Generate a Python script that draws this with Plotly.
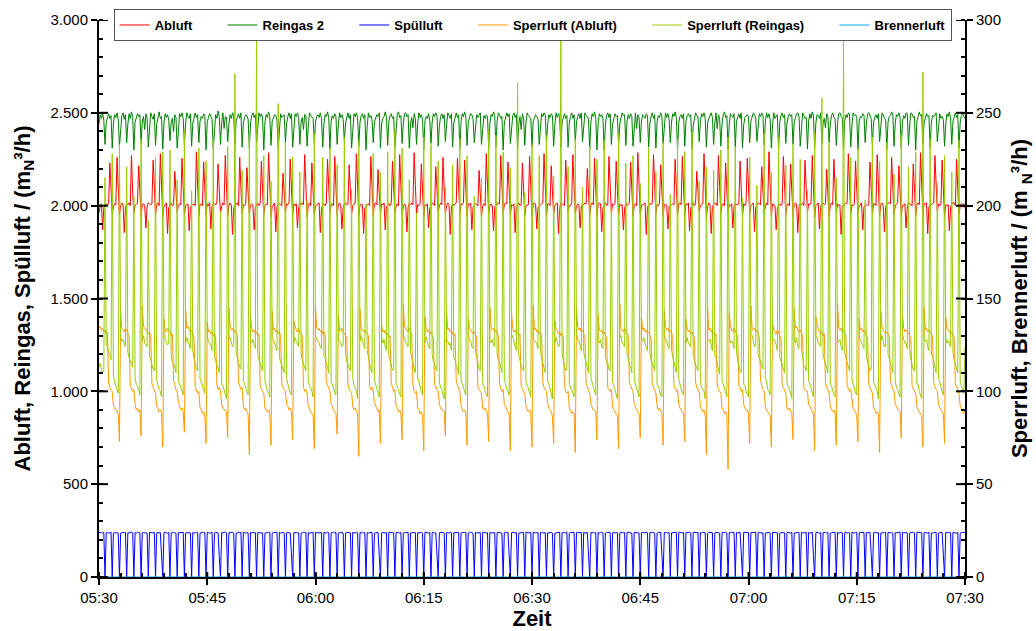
import sys
import pandas as pd
import plotly.graph_objects as go

# ---------------- data (10 s samples, 05:30 - 07:30) ----------------
ZEIT_START = "2024-01-01 05:30:00"
ZEIT_ENDE = "2024-01-01 07:30:00"
TAKT = "10s"
zeit = pd.date_range(ZEIT_START, ZEIT_ENDE, freq=TAKT)

x_ticks = ["05:30", "05:45", "06:00", "06:15", "06:30", "06:45", "07:00", "07:15", "07:30"]
y_ticks_links = [0, 500, 1000, 1500, 2000, 2500, 3000]
y_ticks_rechts = [0, 50, 100, 150, 200, 250, 300]

# Abluft (left axis, m_N^3/h)
abluft = [
    1960,2000,2010,1870,1990,2005, 2010,2000,2015,2230,2090,1955, 1995,2010,2005,2260,2100,1950,
    2000,2015,2005,1855,1985,2010, 2005,2015,2000,2270,2070,1960, 2000,2005,2015,2215,2080,1945,
    2005,2010,2000,1880,1995,2015, 2010,2005,2010,2245,2100,1950, 2005,2015,2000,2280,2110,1940,
    1995,2010,2015,1850,1990,2000, 2015,2000,2005,2185,2060,1965, 2000,2010,2005,2255,2095,1955,
    2000,2005,2010,1865,1985,2005, 2005,2010,2000,2290,2120,1945, 2010,2005,2000,2235,2085,1950,
    2010,2000,2015,1875,1995,2010, 2010,2005,2015,2225,2080,1960, 1995,2015,2005,2270,2105,1945,
    2000,2015,2005,1845,1990,2000, 2005,2015,2000,2260,2095,1955, 2005,2000,2010,2205,2070,1960,
    2005,2010,2000,1870,1985,2010, 2015,2000,2010,2240,2085,1950, 2000,2010,2005,2285,2115,1940,
    1995,2005,2015,1860,1995,2005, 2010,2005,2000,2175,2055,1965, 2010,2005,2015,2250,2090,1950,
    2010,2000,2010,1880,1990,2015, 2005,2015,2005,2275,2110,1940, 2000,2015,2000,2230,2075,1955,
    2000,2005,2010,2015,1855,1985,2005, 2010,2000,2015,2250,2095,1960, 2005,2010,2000,2265,2100,1950,
    2005,2015,2000,1875,1990,2010, 2015,2005,2010,2220,2075,1955, 2000,2005,2015,2280,2110,1945,
    2000,2010,2005,1850,1985,2000, 2005,2010,2000,2265,2100,1945, 2010,2015,2005,2195,2065,1960,
    2010,2005,2015,1870,1995,2005, 2010,2000,2015,2240,2085,1960, 1995,2010,2000,2275,2105,1950,
    1995,2010,2000,1860,1990,2015, 2005,2015,2005,2285,2115,1950, 2005,2000,2010,2225,2080,1940,
    2005,2000,2010,1880,1985,2005, 2015,2005,2000,2210,2070,1965, 2000,2015,2005,2260,2095,1955,
    2000,2015,2005,1845,1995,2010, 2000,2010,2015,2255,2090,1955, 2010,2005,2015,2245,2090,1945,
    2010,2005,2015,1870,1990,2005, 2010,2005,2000,2190,2060,1940, 2000,2010,2000,2280,2110,1960,
    2000,2010,2000,1865,1985,2015, 2005,2015,2010,2270,2105,1960, 2005,2015,2010,2235,2085,1950,
    2005,2000,2010,1855,1995,2010, 2015,2000,2005,2230,2080,1950, 1995,2005,2005,2265,2100,1945,
    2010,2015,2005,1875,1990,2000, 2005,2010,2015,2280,2110,1945, 2010,2010,2000,2215,2075,1955,
    2000,2005,2015,1850,1985,2015, 2010,2005,2000,2245,2090,1965, 2000,2000,2015,2275,2105,1960,
    1995,2010,2000,1880,1995,2010, 2005,2015,2010,2200,2065,1950, 2005,2015,2005,2255,2095,1940,
    2005,2015,2010,1860,1990,2005, 2015,2000,2005,2265,2100,1955, 2010,2005,2010,2240,2085,1950,
    2010,2000,2005,1870,1985,2015, 2000,2010,2015,2235,2085,1945, 2000,2010,2000,2285,2115,1955,
    2000,2005,2010,2015,1845,1990,2005, 2010,2005,2015,2275,2110,1960, 2005,2000,2015,2220,2080,1945,
    2005,2010,2000,1875,1995,2005, 2005,2010,2005,2250,2095,1950, 2010,2015,2005,2265,2100,1950,
    2010,2005,2015,1865,1985,2000, 2015,2000,2010,2185,2060,1965, 2000,2005,2010,2280,2110,1940,
    1995,2015,2005,1850,1990,2010, 2010,2015,2000,2270,2105,1955, 2005,2010,2000,2230,2080,1960,
    2005,2000,2010,1880,1995,2015, 2005,2005,2015,2240,2090,1945, 2010,2000,2015,2255,2095,1955,
    2000,2010,2015,1860,1990,2005, 2015,2010,2005,2210,2070,1960, 1995,2015,2005,2290,2120,1945,
    2010,2005,2000,1870,1985,2000, 2010,2000,2010,2265,2100,1950, 2005,2010,2000,2225,2080,1950,
    2005,2015,2010,1855,1995,2010, 2005,2015,2000,2245,2090,1965, 2010,2005,2015,2270,2105,1940,
    2000,2005,2015,1875,1990,2015, 2015,2005,2010,2195,2065,1940, 2000,2015,2005,2250,2095,1960,
    2010,2000,2005,1845,1985,2005, 2010,2010,2015,2280,2110,1955, 2005,2000,2010,2240,2085,1955,
    1995,2010,2015,1870,1995,2000, 2005,2000,2005,2235,2085,1960, 2010,2010,2000,2275,2105,1945,
    2005,2015,2000,1860,1990,2010, 2015,2015,2010,2260,2095,1950, 2000,2005,2015,2215,2075,1950,
    2000,2005,2010,1880,1985,2015, 2010,2005,2000,2225,2080,1945, 2005,2015,2005,2285,2115,1960,
    2010,2010,2015,1850,1995,2005, 2005,2010,2015,2270,2105,1965, 2010,2000,2010,2245,2090,1940,
    2005,2000,2005,1865,1990,2010, 2015,2015,2000,2250,2095,1950, 2000,2010,2005,2010,1985,
]

# Reingas 2 (left axis)
reingas_2 = [
    2440,2490,2470,2500,2460,2330, 2450,2480,2495,2470,2485,2310, 2445,2490,2475,2500,2465,2320,
    2430,2485,2500,2465,2490,2340, 2440,2495,2470,2505,2480,2300, 2450,2470,2495,2480,2490,2335,
    2455,2480,2410,2495,2470,2315, 2435,2500,2480,2465,2495,2325, 2440,2485,2505,2470,2480,2305,
    2445,2495,2475,2490,2460,2350, 2450,2470,2400,2490,2475,2310, 2435,2495,2480,2500,2470,2330,
    2440,2500,2480,2470,2495,2320, 2445,2485,2500,2475,2490,2340, 2455,2480,2470,2495,2485,2300,
    2450,2475,2495,2480,2465,2305, 2430,2490,2470,2510,2480,2330, 2445,2500,2415,2480,2475,2345,
    2435,2490,2470,2500,2485,2325, 2455,2480,2495,2470,2500,2315, 2440,2475,2490,2485,2465,2310,
    2445,2485,2500,2475,2490,2340, 2440,2500,2480,2495,2470,2300, 2450,2490,2475,2505,2480,2325,
    2455,2470,2490,2485,2460,2310, 2435,2495,2475,2480,2490,2335, 2445,2480,2500,2470,2495,2315,
    2440,2495,2480,2500,2475,2330, 2450,2475,2410,2490,2485,2320, 2430,2500,2485,2480,2470,2340,
    2450,2480,2490,2475,2500,2470,2315, 2440,2490,2480,2505,2475,2305, 2455,2485,2470,2495,2480,2330,
    2435,2500,2475,2490,2465,2345, 2445,2480,2500,2470,2490,2310, 2440,2495,2480,2500,2475,2320,
    2450,2485,2495,2470,2490,2300, 2430,2500,2475,2485,2465,2340, 2450,2470,2490,2480,2500,2310,
    2445,2470,2480,2505,2475,2325, 2455,2485,2495,2470,2480,2315, 2435,2490,2505,2475,2485,2335,
    2440,2495,2500,2480,2490,2310, 2440,2475,2420,2495,2470,2330, 2445,2500,2475,2490,2465,2300,
    2455,2480,2470,2495,2460,2335, 2450,2495,2480,2500,2485,2320, 2430,2480,2495,2470,2490,2345,
    2435,2500,2485,2470,2495,2315, 2445,2470,2500,2475,2490,2305, 2450,2495,2480,2505,2475,2325,
    2450,2475,2495,2490,2470,2340, 2435,2490,2475,2485,2500,2330, 2440,2485,2470,2490,2480,2310,
    2445,2490,2480,2505,2485,2320, 2455,2500,2490,2470,2480,2300, 2445,2475,2500,2480,2495,2335,
    2440,2485,2500,2475,2490,2305, 2440,2480,2410,2495,2470,2325, 2450,2500,2485,2475,2470,2315,
    2455,2470,2490,2480,2465,2330, 2430,2495,2480,2500,2490,2340, 2435,2490,2475,2495,2485,2320,
    2435,2500,2475,2495,2480,2310, 2450,2475,2495,2470,2485,2315, 2445,2480,2500,2470,2490,2345,
    2450,2480,2495,2470,2500,2345, 2445,2500,2485,2480,2465,2305, 2455,2495,2480,2505,2470,2300,
    2445,2495,2480,2490,2470,2300, 2435,2485,2500,2475,2495,2330, 2440,2470,2495,2480,2485,2325,
    2440,2475,2500,2485,2490,2325, 2455,2490,2470,2495,2480,2320, 2430,2500,2415,2490,2475,2340,
    2455,2490,2480,2470,2495,2485,2315, 2440,2480,2500,2470,2490,2310, 2450,2485,2475,2500,2480,2335,
    2435,2500,2475,2495,2465,2340, 2450,2495,2480,2505,2475,2300, 2445,2480,2490,2470,2495,2320,
    2450,2485,2495,2480,2490,2305, 2430,2470,2500,2485,2480,2345, 2455,2495,2480,2500,2470,2315,
    2445,2470,2490,2500,2475,2330, 2445,2500,2415,2490,2470,2320, 2440,2490,2505,2475,2485,2305,
    2440,2495,2480,2475,2495,2315, 2455,2480,2495,2470,2500,2310, 2435,2475,2480,2490,2480,2340,
    2455,2480,2500,2490,2470,2345, 2440,2495,2480,2500,2485,2325, 2450,2500,2475,2495,2465,2310,
    2435,2500,2470,2485,2490,2300, 2450,2485,2500,2475,2490,2335, 2445,2480,2495,2480,2490,2330,
    2450,2475,2495,2500,2480,2320, 2435,2500,2485,2470,2475,2305, 2455,2495,2470,2505,2485,2315,
    2445,2490,2485,2470,2500,2335, 2445,2470,2420,2495,2480,2340, 2440,2485,2500,2475,2470,2325,
    2440,2495,2500,2480,2475,2310, 2455,2490,2475,2500,2495,2315, 2430,2500,2485,2490,2480,2300,
    2455,2480,2475,2495,2490,2340, 2440,2495,2500,2480,2470,2330, 2450,2475,2490,2470,2495,2345,
    2435,2500,2490,2470,2465,2305, 2450,2480,2485,2505,2490,2320, 2445,2490,2480,2500,2475,2310,
    2450,2485,2470,2500,2495,2325, 2435,2500,2495,2475,2480,2300, 2455,2480,2505,2485,2490,2335,
    2445,2470,2495,2480,2485,2315, 2445,2485,2480,2490,2500,2345, 2440,2495,2470,2480,2465,2320,
    2440,2495,2480,2505,2470,2330, 2455,2480,2500,2475,2490,2310, 2450,2485,2495,2480,2470,
]

# Spuelluft (left axis)
spuelluft = [
    240,238,241,237,239,0, 238,240,236,239,241,0, 237,239,240,238,236,0,
    236,239,241,238,240,0, 239,237,240,242,238,0, 240,236,239,241,237,0,
    238,240,237,239,236,0, 241,238,239,237,240,0, 238,240,237,239,120,0,
    239,241,238,236,240,0, 237,239,241,238,236,0, 240,238,239,236,241,0,
    237,238,240,239,237,0, 240,236,238,241,239,0, 236,239,241,238,240,0,
    241,239,236,238,240,0, 238,241,239,237,110,0, 239,237,240,242,238,0,
    238,240,239,241,237,0, 236,239,240,238,241,0, 241,238,236,239,237,0,
    240,237,241,238,239,0, 239,240,237,236,238,0, 237,240,239,241,240,0,
    236,239,238,240,241,0, 241,237,239,240,236,0, 239,241,238,236,125,0,
    239,241,240,237,238,0, 237,238,241,239,240,0, 240,236,239,238,241,0,
    241,238,239,236,240,238,0, 240,239,236,241,238,0, 238,240,241,237,239,0,
    237,240,238,241,236,0, 238,241,240,239,237,0, 241,239,237,240,238,0,
    240,236,241,239,238,0, 239,237,238,240,241,0, 236,238,240,239,115,0,
    238,241,237,240,239,0, 241,240,239,236,238,0, 239,241,238,237,240,0,
    236,239,240,238,241,0, 237,238,241,240,239,0, 240,237,239,241,236,0,
    241,238,239,237,240,0, 240,241,236,238,130,0, 238,240,241,239,237,0,
    239,240,236,241,238,0, 238,239,240,237,241,0, 237,239,238,240,241,0,
    237,241,240,239,236,0, 241,237,238,240,239,0, 240,238,241,236,239,0,
    240,237,238,241,239,0, 239,240,241,238,236,0, 238,241,239,240,120,0,
    238,240,241,236,240,0, 236,238,239,241,240,0, 241,239,237,238,240,0,
    241,239,237,240,238,0, 240,241,236,239,238,0, 239,237,240,241,236,0,
    236,238,240,239,241,0, 238,239,240,236,241,0, 237,240,238,239,241,0,
    239,241,238,237,240,0, 241,236,239,240,118,0, 240,238,241,237,239,0,
    240,236,239,241,238,0, 237,240,238,241,239,0, 238,241,236,240,238,0,
    237,239,241,238,240,0, 239,241,240,237,236,0, 241,239,240,238,237,0,
    238,240,237,239,241,238,0, 240,238,241,239,237,0, 236,240,239,241,122,0,
    241,238,240,236,239,0, 238,237,239,240,241,0, 239,241,238,237,240,0,
    239,240,238,241,237,0, 241,239,236,238,240,0, 240,237,241,239,238,0,
    236,241,239,240,238,0, 237,240,241,239,236,0, 238,239,240,241,237,0,
    240,237,241,238,239,0, 239,238,240,241,128,0, 241,240,237,238,239,0,
    238,239,240,237,241,0, 240,241,238,236,239,0, 237,238,241,240,236,0,
    241,240,236,239,238,0, 236,239,240,241,238,0, 239,241,238,237,240,0,
    237,238,241,240,239,0, 241,237,238,239,240,0, 240,236,239,241,115,0,
    239,241,238,236,240,0, 238,240,241,237,239,0, 236,239,240,238,241,0,
    240,236,239,241,237,0, 239,241,236,240,238,0, 241,238,237,239,240,0,
    238,241,240,238,239,0, 240,238,239,241,125,0, 238,240,241,236,239,0,
    236,239,237,241,240,0, 241,239,240,238,236,0, 239,237,238,240,241,0,
    241,238,240,239,236,0, 237,240,241,239,238,0, 240,241,239,237,238,0,
    239,240,238,236,241,0, 238,236,239,240,241,0, 237,239,240,241,120,0,
    240,237,241,239,238,0, 241,239,238,236,240,0, 236,240,239,238,239,
]

# Sperrluft (Abluft) (right axis)
sperrluft_abluft = [
    134,135,133,134,132,133,131,132,105,102,101,100,92,91,90,89,88,73,
    142,134,133,132,134,133,131,130,103,101,100,101,93,90,91,89,90,76,
    146,135,134,133,132,131,132,130,104,102,100,99,92,91,89,90,88,70,
    139,133,132,134,133,132,130,131,106,103,101,100,94,92,90,91,89,78,
    144,134,135,133,132,133,131,129,102,100,99,100,91,90,88,89,87,72,
    137,132,133,131,132,130,131,129,104,101,102,100,93,91,90,90,89,75,
    145,135,133,134,132,133,131,130,105,103,101,102,92,90,91,89,88,66,
    140,134,132,133,131,132,130,131,103,101,100,99,91,90,89,90,88,71,
    143,133,134,132,133,131,132,130,104,102,101,100,93,92,90,91,89,74,
    138,135,133,132,134,132,131,130,102,100,101,99,92,90,89,88,87,69,
    146,134,133,134,132,133,131,132,130,105,103,101,100,93,91,90,89,88,77,
    141,133,132,134,132,131,130,129,104,101,100,99,92,90,91,89,88,65,
    144,134,133,132,133,132,131,130,103,101,102,100,94,92,90,89,90,72,
    136,132,133,131,132,130,129,130,105,102,100,101,92,91,89,90,88,74,
    147,135,134,133,132,134,132,131,103,100,99,100,91,90,88,89,87,68,
    140,134,132,133,131,132,130,129,104,102,101,100,93,91,90,90,89,76,
    143,133,134,132,133,131,130,131,106,103,101,100,92,90,89,90,88,71,
    139,134,133,132,131,132,130,129,102,101,100,99,91,90,91,89,88,73,
    145,135,133,134,132,133,131,130,104,102,100,101,93,92,90,89,88,68,
    142,134,132,133,131,132,130,131,103,101,100,99,92,90,89,90,88,70,
    146,133,134,132,133,131,132,130,105,102,101,100,94,91,90,89,87,72,
    138,134,133,131,132,130,131,129,103,100,99,100,91,90,88,89,88,67,
    144,135,133,134,132,133,131,130,104,102,101,99,93,91,90,90,89,74,
    141,133,132,133,131,132,130,129,102,101,100,101,92,90,89,88,87,69,
    147,134,133,132,134,132,131,130,105,103,101,100,93,92,90,89,88,75,
    140,133,134,132,133,131,132,130,129,104,102,100,99,92,90,91,89,88,71,
    143,135,133,134,132,133,131,130,103,101,100,101,93,91,90,89,88,73,
    139,134,132,133,131,132,130,129,105,102,101,100,92,90,89,90,87,66,
    145,133,134,132,133,131,130,131,104,101,100,99,91,90,88,89,87,58,
    142,135,133,132,134,132,131,130,103,102,100,101,93,91,90,90,88,72,
    146,134,133,134,132,133,131,129,106,103,101,100,92,90,89,88,87,70,
    137,133,132,131,133,131,130,129,104,102,100,99,91,90,91,89,88,74,
    144,134,135,133,132,133,131,130,102,101,100,100,93,92,90,89,88,68,
    140,135,133,132,131,132,130,131,105,102,101,99,92,90,89,90,88,71,
    147,134,133,134,132,133,131,130,103,101,100,101,94,91,90,89,87,73,
    139,133,134,132,133,131,130,129,104,102,100,99,91,90,88,89,88,67,
    143,135,133,132,131,132,131,130,106,103,101,100,93,92,90,90,89,75,
    141,134,132,133,132,131,130,129,103,101,100,99,92,90,89,88,87,70,
    145,133,134,132,133,132,131,130,105,102,101,100,93,91,90,89,88,72,
    140,134,133,132,131,132,130,129,104,102,100,99,92,90,89,88,90,
]

# Sperrluft (Reingas) (right axis)
sperrluft_reingas = [
    113,115,112,110,111,215, 126,124,122,119,117,228, 108,105,103,101,99,233,
    129,127,128,126,124,221, 121,118,116,114,113,205, 107,104,103,101,98,236,
    127,130,126,125,124,192, 119,117,114,112,111,226, 106,103,101,100,97,229,
    131,128,127,125,126,230, 120,116,115,113,110,214, 105,104,102,99,98,241,
    126,129,127,124,123,208, 122,118,115,112,111,231, 107,105,102,100,99,224,
    130,127,126,125,122,236, 119,117,114,113,110,197, 104,103,101,98,96,232,
    128,129,126,124,125,271, 121,118,116,113,112,219, 106,104,102,100,98,238,
    127,126,128,125,123,297, 120,117,115,112,111,227, 105,103,100,99,97,213,
    129,128,126,124,122,255, 118,116,114,111,110,234, 107,104,101,99,98,226,
    126,129,127,125,124,218, 121,117,115,113,111,203, 106,103,102,100,97,239,
    130,128,127,126,124,123,226, 119,118,115,112,110,231, 105,104,101,99,98,222,
    128,127,126,124,125,237, 120,116,114,113,111,209, 107,103,102,100,96,235,
    127,130,127,125,123,201, 122,118,115,112,110,228, 106,104,101,99,97,218,
    129,126,128,124,122,229, 119,117,114,111,112,240, 104,103,100,98,97,231,
    131,128,126,125,124,214, 121,118,116,113,110,196, 107,105,102,100,98,237,
    126,129,127,124,123,233, 120,116,115,112,111,224, 105,102,101,99,96,210,
    128,127,125,126,122,222, 118,117,114,113,109,236, 106,104,102,99,98,227,
    130,128,127,124,123,205, 121,119,115,112,111,215, 104,103,100,98,97,241,
    127,126,128,125,124,238, 120,117,116,113,110,229, 107,104,101,100,98,220,
    129,130,126,124,122,266, 119,116,114,112,111,207, 105,103,102,99,97,233,
    128,127,127,125,123,227, 122,118,115,113,110,238, 106,104,101,98,96,216,
    126,129,126,124,125,297, 120,117,114,111,112,221, 104,102,100,99,97,236,
    131,128,127,125,122,210, 121,118,116,113,110,232, 107,105,102,100,98,225,
    127,126,128,124,123,235, 119,116,115,112,111,199, 105,103,101,99,96,239,
    129,130,126,125,124,223, 120,118,114,113,110,227, 106,104,102,100,97,212,
    128,127,129,126,124,122,231, 121,117,115,112,111,218, 104,103,100,98,97,234,
    130,128,127,124,123,206, 122,119,116,113,110,236, 107,104,101,99,98,229,
    126,129,126,125,124,240, 120,116,114,112,111,213, 105,102,101,100,96,221,
    128,127,128,124,122,219, 119,118,115,113,109,230, 106,104,102,99,97,237,
    129,126,127,126,123,232, 121,117,114,111,110,204, 104,103,100,98,97,226,
    131,130,126,124,125,211, 120,118,116,113,112,239, 107,105,101,100,98,218,
    127,128,127,125,122,237, 118,116,115,112,110,222, 105,102,101,99,96,233,
    128,126,129,124,123,225, 122,119,114,113,111,208, 106,104,102,100,97,240,
    130,129,126,125,124,258, 120,117,115,112,110,234, 104,103,100,98,97,215,
    126,127,128,124,122,289, 121,118,116,113,111,226, 107,104,101,99,98,231,
    129,128,126,125,123,203, 119,116,114,111,112,237, 105,103,102,100,96,224,
    127,130,127,124,124,234, 120,118,115,113,110,217, 106,102,101,99,97,238,
    131,128,126,126,123,221, 122,117,114,112,111,229, 104,104,100,98,96,272,
    128,127,128,124,122,236, 120,119,116,113,110,212, 107,105,102,100,98,227,
    129,126,127,125,124,218, 121,117,115,112,110,235, 105,103,101,99,124,
]

# Brennerluft (right axis) - flat at zero over the whole window
brennerluft_zeit = [ZEIT_START, ZEIT_ENDE]
brennerluft = [0, 0]

for name, s in [("abluft", abluft), ("reingas_2", reingas_2), ("spuelluft", spuelluft),
                ("sperrluft_abluft", sperrluft_abluft), ("sperrluft_reingas", sperrluft_reingas)]:
    if len(s) != len(zeit):
        sys.stderr.write(f"{name}: {len(s)} != {len(zeit)}\n")
        raise SystemExit(1)

# ---------------- styling ----------------
FONT = "Liberation Sans, Arial, sans-serif"
NB = "\u00a0" * 7

fig = go.Figure()
fig.add_trace(go.Scatter(x=zeit, y=abluft, name="Abluft" + NB, mode="lines",
                         line=dict(color="#FF0000", width=1)))
fig.add_trace(go.Scatter(x=zeit, y=reingas_2, name="Reingas 2" + NB, mode="lines",
                         line=dict(color="#008000", width=1)))
fig.add_trace(go.Scatter(x=zeit, y=spuelluft, name="Spülluft" + NB, mode="lines",
                         line=dict(color="#0000FF", width=1)))
fig.add_trace(go.Scatter(x=zeit, y=sperrluft_abluft, name="Sperrluft (Abluft)" + NB, mode="lines",
                         line=dict(color="#FF9900", width=1), yaxis="y2"))
fig.add_trace(go.Scatter(x=zeit, y=sperrluft_reingas, name="Sperrluft (Reingas)" + NB, mode="lines",
                         line=dict(color="#99CC00", width=1), yaxis="y2"))
fig.add_trace(go.Scatter(x=brennerluft_zeit, y=brennerluft, name="Brennerluft", mode="lines",
                         line=dict(color="#00B0F0", width=1.2), yaxis="y2"))

# inner halves of the major ticks (the reference ticks cross the axis lines)
tick_in = dict(color="black", width=2)
shapes = []
for v in y_ticks_links:
    shapes.append(dict(type="line", xref="paper", yref="y", x0=0, x1=0.0104, y0=v, y1=v,
                       line=tick_in, layer="above"))
for v in y_ticks_rechts:
    shapes.append(dict(type="line", xref="paper", yref="y2", x0=1, x1=1 - 0.0104, y0=v, y1=v,
                       line=tick_in, layer="above"))
for t in x_ticks:
    ts = f"2024-01-01 {t}:00"
    shapes.append(dict(type="line", xref="x", yref="paper", x0=ts, x1=ts, y0=0, y1=0.009,
                       line=tick_in, layer="above"))

x_range = [ZEIT_START, ZEIT_ENDE]
tickfont = dict(family=FONT, size=15, color="black")
titlefont = dict(family=FONT, size=22, color="black", weight="bold")

fig.update_layout(
    width=1036, height=631,
    margin=dict(l=99, r=71, t=20, b=54, autoexpand=False),
    paper_bgcolor="white", plot_bgcolor="white",
    separators=",.",
    showlegend=True,
    shapes=shapes,
    legend=dict(orientation="h", x=0.017, xanchor="left", y=1.0197, yanchor="top",
                bgcolor="white", bordercolor="#555555", borderwidth=1,
                font=dict(family=FONT, size=13, color="black", weight="bold"),
                traceorder="normal"),
    xaxis=dict(type="date", range=x_range, tickmode="array",
               tickvals=[f"2024-01-01 {t}:00" for t in x_ticks], ticktext=x_ticks,
               ticks="outside", ticklen=6, tickwidth=2, tickcolor="black",
               minor=dict(tickmode="linear", dtick=3 * 60 * 1000, tick0=ZEIT_START,
                          ticks="inside", ticklen=4, tickwidth=1.5, tickcolor="black",
                          showgrid=False),
               showline=True, linecolor="black", linewidth=2, showgrid=False, zeroline=False,
               tickfont=tickfont,
               title=dict(text="Zeit", font=titlefont, standoff=6)),
    yaxis=dict(range=[0, 3000], tickmode="array", tickvals=y_ticks_links, tickformat=",.0f",
               ticks="outside", ticklen=6, tickwidth=2, tickcolor="black",
               minor=dict(tickmode="linear", tick0=0, dtick=100, ticks="inside", ticklen=4,
                          tickwidth=1.5, tickcolor="black", showgrid=False),
               showline=True, linecolor="black", linewidth=2, showgrid=False, zeroline=False,
               tickfont=tickfont,
               title=dict(text="Abluft, Reingas, Spülluft / (m<sub>N</sub>³/h)",
                          font=titlefont, standoff=14)),
    yaxis2=dict(range=[0, 300], tickmode="array", tickvals=y_ticks_rechts,
                overlaying="y", side="right", anchor="x",
                ticks="outside", ticklen=6, tickwidth=2, tickcolor="black",
                minor=dict(tickmode="linear", tick0=0, dtick=10, ticks="inside", ticklen=4,
                           tickwidth=1.5, tickcolor="black", showgrid=False),
                showline=True, linecolor="black", linewidth=2, showgrid=False, zeroline=False,
                tickfont=tickfont,
                title=dict(text="Sperrluft, Brennerluft / (m <sub>N</sub>³/h)",
                           font=titlefont, standoff=12)),
)

fig.write_html("out.html")
